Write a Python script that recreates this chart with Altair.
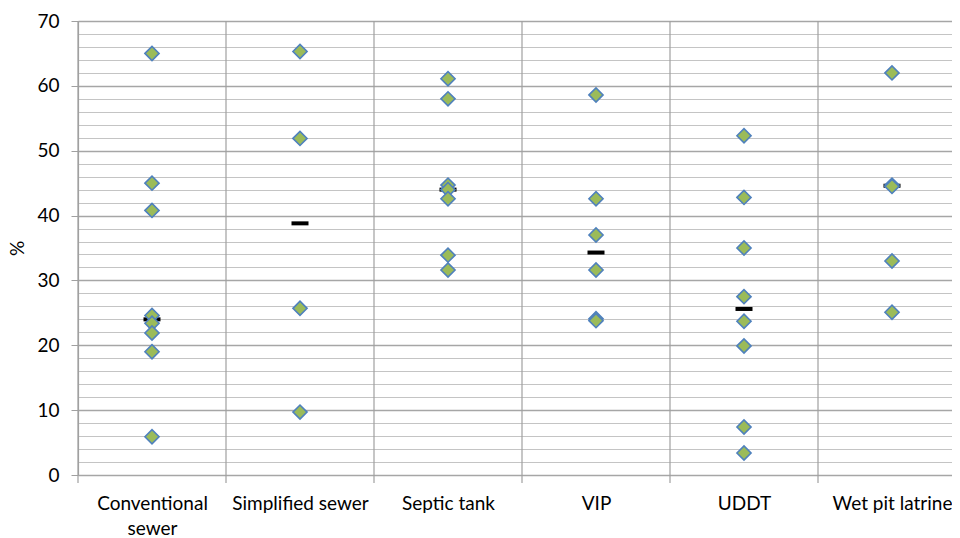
import altair as alt
import pandas as pd

categories = ["Conventional sewer", "Simplified sewer", "Septic tank", "VIP", "UDDT", "Wet pit latrine"]

conventional_sewer = [65.0, 45.0, 40.8, 24.6, 23.4, 21.9, 19.0, 5.9]
simplified_sewer = [65.3, 51.9, 25.7, 9.7]
septic_tank = [61.1, 58.0, 44.7, 44.0, 42.6, 33.9, 31.6]
vip = [58.6, 42.6, 37.0, 31.6, 24.1, 23.8]
uddt = [52.3, 42.8, 35.0, 27.5, 23.7, 19.9, 7.4, 3.4]
wet_pit_latrine = [62.0, 44.7, 44.5, 33.0, 25.1]

medians = [24.0, 38.8, 44.0, 34.3, 25.6, 44.6]

y_ticks = list(range(0, 71, 2))

series = [conventional_sewer, simplified_sewer, septic_tank, vip, uddt, wet_pit_latrine]
rows = []
for i, (cat, vals) in enumerate(zip(categories, series)):
    for v in vals:
        rows.append({"category": cat, "pos": i + 0.5, "value": v})
points_df = pd.DataFrame(rows)
median_df = pd.DataFrame({"category": categories,
                          "pos": [i + 0.5 for i in range(len(categories))],
                          "value": medians})
bounds_df = pd.DataFrame({"b": list(range(len(categories) + 1))})

PAD_L = 70
PLOT_W = 874          # 944 px page content width minus left padding
BAND = 148
PLOT_H = 454
PAD_T = 13

def js_label(name):
    # wrap the long first category onto two lines like the original
    if name == "Conventional sewer":
        return "['Conventional','sewer']"
    return "'" + name + "'"

labels_js = "[" + ",".join(js_label(c) for c in categories) + "]"

font = "Lato"
GRID = "#a0a0a0"

x_scale = alt.Scale(domain=[0, PLOT_W / BAND], nice=False, zero=False)
x_axis = alt.Axis(
    title=None,
    values=[i + 0.5 for i in range(len(categories))],
    grid=False,
    domain=False,
    ticks=True,
    tickColor="transparent",
    tickSize=8,
    labelAngle=0,
    labelFont=font,
    labelFontSize=19,
    labelColor="#000000",
    labelPadding=11,
    labelLineHeight=25,
    labelFlush=False,
    labelOverlap=False,
    labelExpr=labels_js + "[floor(datum.value)]",
)

y_scale = alt.Scale(domain=[0, 70], nice=False, zero=True)
y_axis = alt.Axis(
    title="%",
    titleFont=font,
    titleFontSize=19,
    titleFontWeight="normal",
    titleColor="#000000",
    titlePadding=9,
    values=y_ticks,
    labelExpr="datum.value % 10 == 0 ? datum.label : ''",
    labelFont=font,
    labelFontSize=19,
    labelColor="#000000",
    labelPadding=12,
    grid=True,
    gridColor={"condition": {"test": "datum.value % 10 == 0", "value": "#a6a6a6"}, "value": "#c4c4c4"},
    gridWidth={"condition": {"test": "datum.value % 10 == 0", "value": 1.4}, "value": 1.1},
    tickColor={"condition": {"test": "datum.value % 10 == 0", "value": GRID}, "value": "transparent"},
    tickSize=7,
    domain=True,
    domainColor=GRID,
    domainWidth=1.2,
)

separators = alt.Chart(bounds_df).mark_rule(color=GRID, strokeWidth=1.2).encode(
    x=alt.X("b:Q", scale=x_scale, axis=x_axis),
    y=alt.value(0),
    y2=alt.value(PLOT_H + 8),
)

dash = alt.Chart(median_df).mark_tick(
    color="#000000", opacity=1, thickness=4, size=17, orient="horizontal"
).encode(
    x=alt.X("pos:Q", scale=x_scale, axis=x_axis),
    y=alt.Y("value:Q", scale=y_scale, axis=y_axis),
)

diamonds = alt.Chart(points_df).mark_point(
    shape="diamond", filled=True, fill="#9BBB59", stroke="#4F81BD", strokeWidth=1.6, size=200, opacity=1
).encode(
    x=alt.X("pos:Q", scale=x_scale, axis=x_axis),
    y=alt.Y("value:Q", scale=y_scale, axis=y_axis),
)

chart = alt.layer(separators, dash, diamonds).properties(
    width=PLOT_W,
    height=PLOT_H,
    padding={"left": PAD_L, "top": PAD_T, "right": 0, "bottom": 530 - PAD_T - PLOT_H},
    autosize=alt.AutoSizeParams(type="none"),
    background="#ffffff",
).configure_view(stroke=None)

chart.save("out.html", embed_options={"renderer": "svg", "actions": False})
